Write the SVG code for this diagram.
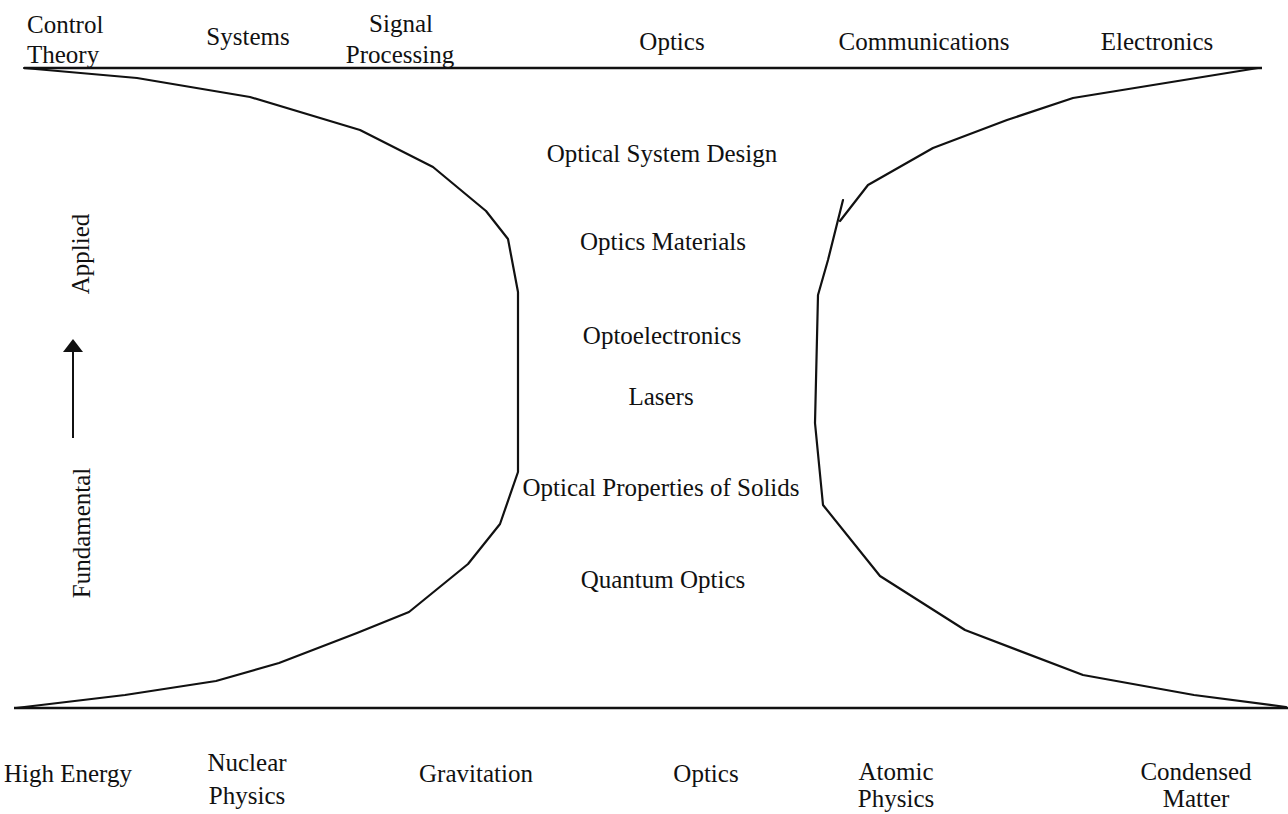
<svg xmlns="http://www.w3.org/2000/svg" width="1288" height="814" viewBox="0 0 1288 814">
<style>
text{font-family:"Liberation Serif","Times New Roman",serif;font-size:25px;fill:#111}
.m{text-anchor:middle}
.s{text-anchor:start}
.ln{fill:none;stroke:#111;stroke-width:2.2;stroke-linejoin:round;stroke-linecap:round}
.ax{fill:none;stroke:#111;stroke-width:2.6}
</style>
<rect width="1288" height="814" fill="#fff"/>
<g id="connectors">
<line class="ax" x1="24" y1="68" x2="1262" y2="68"/>
<line class="ax" x1="14" y1="708" x2="1288" y2="708"/>
<polyline class="ln" points="24,68 137,78 250,97 360,130 433,167 486,211 508,239 518,292 518,472 500,524 468,564 409,612 357,633 279,663 216,681 125,695 16,708"/>
<polyline class="ln" points="1258,68 1073,98 1007,120 933,148 868,185 840,221"/>
<polyline class="ln" points="843,200 828,260 818,295 815,423 823,505 880,576 965,630 1083,675 1194,695 1286,707"/>
<line x1="73" y1="438" x2="73" y2="348" stroke="#111" stroke-width="2"/>
<polygon points="73,339 63,352 83,352" fill="#111"/>
</g>
<g id="top-control-theory"><text class="s" x="27" y="33">Control</text><text class="s" x="27" y="63">Theory</text></g>
<g id="top-systems"><text class="m" x="248" y="45">Systems</text></g>
<g id="top-signal-processing"><text class="m" x="401" y="32">Signal</text><text class="m" x="400" y="63">Processing</text></g>
<g id="top-optics"><text class="m" x="672" y="50">Optics</text></g>
<g id="top-communications"><text class="m" x="924" y="50">Communications</text></g>
<g id="top-electronics"><text class="m" x="1157" y="50">Electronics</text></g>
<g id="mid-optical-system-design"><text class="m" x="662" y="162">Optical System Design</text></g>
<g id="mid-optics-materials"><text class="m" x="663" y="250">Optics Materials</text></g>
<g id="mid-optoelectronics"><text class="m" x="662" y="344">Optoelectronics</text></g>
<g id="mid-lasers"><text class="m" x="661" y="405">Lasers</text></g>
<g id="mid-optical-properties"><text class="m" x="661" y="496">Optical Properties of Solids</text></g>
<g id="mid-quantum-optics"><text class="m" x="663" y="588">Quantum Optics</text></g>
<g id="axis-applied"><text class="m" transform="translate(89,254) rotate(-90)">Applied</text></g>
<g id="axis-fundamental"><text class="m" transform="translate(90,533) rotate(-90)">Fundamental</text></g>
<g id="bot-high-energy"><text class="s" x="4" y="782">High Energy</text></g>
<g id="bot-nuclear-physics"><text class="m" x="247" y="771">Nuclear</text><text class="m" x="247" y="804">Physics</text></g>
<g id="bot-gravitation"><text class="m" x="476" y="782">Gravitation</text></g>
<g id="bot-optics"><text class="m" x="706" y="782">Optics</text></g>
<g id="bot-atomic-physics"><text class="m" x="896" y="780">Atomic</text><text class="m" x="896" y="807">Physics</text></g>
<g id="bot-condensed-matter"><text class="m" x="1196" y="780">Condensed</text><text class="m" x="1196" y="807">Matter</text></g>
</svg>
